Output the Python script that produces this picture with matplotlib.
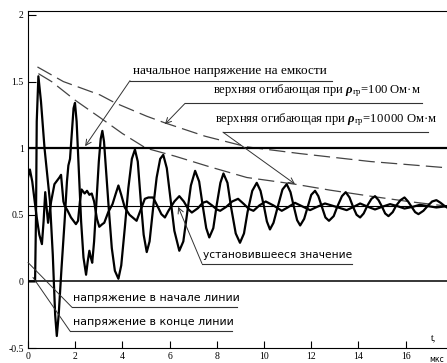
import matplotlib
matplotlib.use("Agg")
import matplotlib.pyplot as plt
import numpy as np

plt.rcParams['font.family'] = ['Liberation Serif', 'DejaVu Serif']
plt.rcParams['mathtext.fontset'] = 'custom'
plt.rcParams['mathtext.rm'] = 'Liberation Serif'
plt.rcParams['mathtext.it'] = 'Liberation Serif:italic'
plt.rcParams['mathtext.bf'] = 'Liberation Serif:italic:bold'

# напряжение в конце линии
t_end = [0.0, 0.30, 0.34, 0.37, 0.44, 0.55, 0.7, 0.93, 1.05, 1.15, 1.22, 1.3, 1.42, 1.55, 1.65,
         1.71, 1.78, 1.85, 1.93, 1.99, 2.06, 2.15, 2.25, 2.35, 2.46, 2.53, 2.6, 2.66, 2.72, 2.8,
         2.9, 3.0, 3.08, 3.15, 3.22, 3.32, 3.42, 3.55, 3.68, 3.83, 3.95, 4.1, 4.25, 4.4, 4.53,
         4.65, 4.78, 4.9, 5.03, 5.15, 5.3, 5.45, 5.6, 5.73, 5.88, 6.05, 6.2, 6.41, 6.58, 6.75,
         6.9, 7.08, 7.25, 7.4, 7.55, 7.68, 7.85, 8.0, 8.15, 8.28, 8.45, 8.6, 8.8, 8.98, 9.15,
         9.3, 9.5, 9.69, 9.85, 10.0, 10.12, 10.25, 10.4, 10.58, 10.78, 10.96, 11.12, 11.25, 11.4,
         11.53, 11.7, 11.85, 12.0, 12.16, 12.3, 12.45, 12.6, 12.75, 12.95, 13.1, 13.3, 13.46,
         13.62, 13.77, 13.92, 14.07, 14.22, 14.38, 14.55, 14.7, 14.85, 15.0, 15.13, 15.27, 15.45,
         15.6, 15.78, 15.95, 16.1, 16.25, 16.4, 16.54, 16.75, 16.95, 17.12, 17.3, 17.48, 17.62,
         17.75]
u_end = [0.0, 0.0, 0.5, 1.2, 1.54, 1.35, 1.0, 0.6, 0.2, -0.25, -0.41, -0.25, 0.1, 0.45, 0.75,
         0.87, 0.92, 1.1, 1.3, 1.34, 1.2, 0.85, 0.45, 0.18, 0.05, 0.15, 0.23, 0.18, 0.14, 0.3,
         0.6, 0.9, 1.07, 1.13, 1.05, 0.8, 0.55, 0.25, 0.08, 0.02, 0.12, 0.4, 0.7, 0.92, 0.99,
         0.9, 0.6, 0.35, 0.22, 0.3, 0.55, 0.78, 0.92, 0.95, 0.85, 0.6, 0.38, 0.23, 0.3, 0.52,
         0.72, 0.83, 0.75, 0.57, 0.4, 0.33, 0.4, 0.58, 0.74, 0.81, 0.74, 0.56, 0.36, 0.29, 0.36,
         0.52, 0.68, 0.74, 0.68, 0.56, 0.45, 0.39, 0.44, 0.56, 0.69, 0.73, 0.67, 0.57, 0.46,
         0.42, 0.47, 0.56, 0.65, 0.68, 0.64, 0.56, 0.48, 0.455, 0.49, 0.56, 0.64, 0.67,
         0.63, 0.56, 0.5, 0.48, 0.51, 0.57, 0.62, 0.64, 0.61, 0.56, 0.51, 0.49, 0.52,
         0.57, 0.61, 0.63, 0.6, 0.56, 0.52, 0.505, 0.53, 0.57, 0.6, 0.61, 0.59, 0.57,
         0.555]

# напряжение в начале линии
t_beg = [0.0, 0.08, 0.18, 0.27, 0.37, 0.48, 0.59, 0.66, 0.73, 0.79, 0.85, 0.98, 1.12, 1.33, 1.4,
         1.5, 1.55, 1.68, 1.82, 2.03, 2.12, 2.2, 2.27, 2.4, 2.5, 2.6, 2.7, 2.8, 2.92, 3.02, 3.15,
         3.23, 3.4, 3.58, 3.72, 3.83, 3.95, 4.1, 4.3, 4.6, 4.8, 4.95, 5.1, 5.3, 5.5, 5.65, 5.8,
         5.95, 6.2, 6.41, 6.6, 6.8, 6.94, 7.2, 7.4, 7.57, 7.8, 8.0, 8.14, 8.4, 8.65, 8.9, 9.15,
         9.35, 9.55, 9.8, 10.07, 10.4, 10.75, 11.0, 11.31, 11.6, 11.95, 12.25, 12.58, 13.05,
         13.5, 13.8, 14.07, 14.4, 14.7, 15.0, 15.34, 15.65, 15.95, 16.3, 16.6, 16.95, 17.3,
         17.75]
u_beg = [0.78, 0.84, 0.75, 0.62, 0.48, 0.35, 0.28, 0.45, 0.67, 0.55, 0.44, 0.6, 0.73, 0.78, 0.8,
         0.6, 0.57, 0.53, 0.48, 0.43, 0.455, 0.6, 0.69, 0.66, 0.68, 0.65, 0.66, 0.6, 0.47, 0.41,
         0.43, 0.44, 0.52, 0.58, 0.66, 0.72, 0.65, 0.555, 0.5, 0.455, 0.55, 0.62, 0.63, 0.63,
         0.56, 0.505, 0.48, 0.53, 0.6, 0.64, 0.6, 0.54, 0.517, 0.55, 0.59, 0.6, 0.57, 0.54, 0.53,
         0.56, 0.6, 0.62, 0.58, 0.545, 0.53, 0.57, 0.6, 0.57, 0.53, 0.555, 0.59, 0.565, 0.535,
         0.56, 0.585, 0.56, 0.535, 0.56, 0.585, 0.56, 0.54, 0.56, 0.58, 0.565, 0.547, 0.56,
         0.575, 0.565, 0.555, 0.565]

# огибающие
t_env100 = [0.4, 1.5, 3.05, 3.69, 5.03, 5.8, 7.5, 9.27, 11.5, 14.5, 17.74]
u_env100 = [1.61, 1.5, 1.40, 1.34, 1.24, 1.19, 1.09, 1.01, 0.96, 0.90, 0.853]
t_env10k = [0.44, 1.0, 2.0, 3.05, 4.0, 5.0, 6.23, 7.7, 9.27, 11.3, 12.8, 14.5, 16.1, 17.75]
u_env10k = [1.56, 1.50, 1.36, 1.23, 1.11, 1.0, 0.94, 0.86, 0.78, 0.73, 0.685, 0.64, 0.60, 0.565]

u_init = 1.0
u_steady = 0.565

xticks = [0, 2, 4, 6, 8, 10, 12, 14, 16]
yticks = [-0.5, 0, 0.5, 1, 1.5, 2]
ylabels = ['-0.5', '0', '0.5', '1', '1.5', '2']

fig = plt.figure(figsize=(4.47, 3.63), dpi=100)
ax = fig.add_axes([28/447, 15/363, 419/447, 337/363])

ax.plot(t_env100, u_env100, color='#444444', lw=0.9, dashes=(13, 5))
ax.plot(t_env10k, u_env10k, color='#444444', lw=0.9, dashes=(13, 5))
ax.axhline(u_init, color='black', lw=1.6)
ax.axhline(0, color='black', lw=1.1)
ax.axhline(u_steady, color='black', lw=0.8)
ax.plot(t_beg, u_beg, color='black', lw=1.6)
ax.plot(t_end, u_end, color='black', lw=1.6)

ax.set_xlim(0, 17.75)
ax.set_ylim(-0.5, 2.03)
ax.spines['right'].set_visible(False)
ax.set_xticks(xticks)
ax.set_xticklabels([str(v) for v in xticks])
ax.set_yticks(yticks)
ax.set_yticklabels(ylabels)
ax.tick_params(axis='both', direction='in', labelsize=7, width=0.8)
ax.tick_params(axis='x', length=5, pad=3)
ax.tick_params(axis='y', length=6, pad=3)

ax.text(17.2, -0.44, 't,', fontsize=7, ha='center')
ax.text(17.3, -0.55, 'мкс', fontsize=5.5, ha='center', va='top', family='DejaVu Sans')

lc = '#333333'
arr = dict(arrowstyle='->', color=lc, lw=0.7, shrinkA=0, shrinkB=0)
line = dict(arrowstyle='-', color=lc, lw=0.7, shrinkA=0, shrinkB=0)


def label(text, tx, x0, x1, y, tip, ap, family='Liberation Serif', size=9.5):
    ax.plot([x0, x1], [y, y], color=lc, lw=0.8)
    ax.annotate('', xy=tip, xytext=(x0, y), arrowprops=ap)
    ax.text(tx, y + 0.03, text, fontsize=size, family=family, va='bottom', ha='left')


label('начальное напряжение на емкости', 4.45, 4.32, 12.88, 1.507, (2.42, 1.015), arr)
label(r'верхняя огибающая при $\mathbf{ρ}_{\mathrm{гр}}$=100 Ом·м', 7.84, 6.65, 16.69, 1.336,
      (5.8, 1.18), arr, size=9.1)
label(r'верхняя огибающая при $\mathbf{ρ}_{\mathrm{гр}}$=10$\,$000 Ом·м', 7.92, 8.26, 16.95, 1.12,
      (11.31, 0.731), arr, size=9.1)
label('установившееся значение', 7.4, 7.37, 13.73, 0.134, (6.36, 0.56), arr,
      family='DejaVu Sans', size=7.7)
label('напряжение в начале линии', 1.9, 1.86, 8.86, -0.194, (0.0, 0.142), line,
      family='DejaVu Sans', size=7.9)
label('напряжение в конце линии', 1.9, 1.78, 8.64, -0.373, (0.21, 0.03), line,
      family='DejaVu Sans', size=7.9)

fig.savefig('out.png', dpi=100)
